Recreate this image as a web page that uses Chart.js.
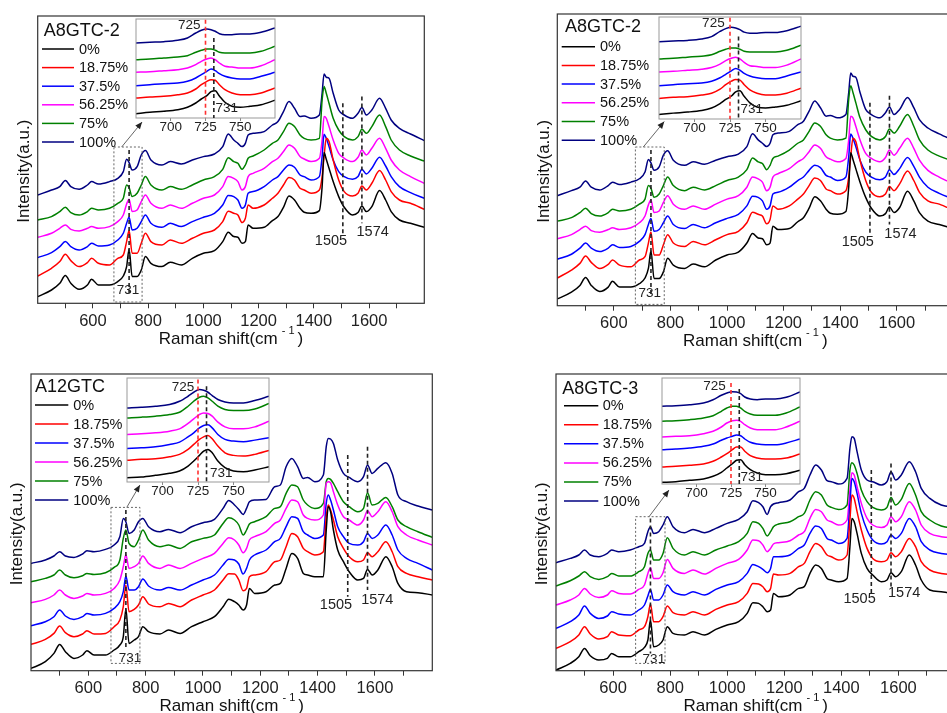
<!DOCTYPE html>
<html><head><meta charset="utf-8">
<script src="https://cdn.jsdelivr.net/npm/chart.js@4.4.1/dist/chart.umd.min.js"></script>
<style>
html,body{margin:0;padding:0;background:#fff;overflow:hidden;width:947px;height:713px;}
canvas{position:absolute;}
</style></head><body>
<canvas id="m1"></canvas><canvas id="m2"></canvas><canvas id="m3"></canvas><canvas id="m4"></canvas>
<canvas id="i1"></canvas><canvas id="i2"></canvas><canvas id="i3"></canvas><canvas id="i4"></canvas>
<script>
// ---------- data ----------
const wavenumbers = [400,450,480,500,520,550,580,595,620,660,690,710,722,731,742,760,775,790,810,850,880,920,960,1000,1040,1070,1090,1110,1125,1140,1152,1162,1180,1220,1250,1270,1290,1310,1330,1350,1365,1390,1420,1430,1437,1445,1455,1470,1490,1510,1540,1560,1574,1590,1610,1638,1660,1680,1710,1750,1800];
const insetWavenumbers = [675,685,695,705,712,718,722,726,729,732,735,739,744,750,757,765,775];
const seriesLabels = ['0%','18.75%','37.5%','56.25%','75%','100%'];
const seriesColors = ['#000000','#ff0000','#0000ff','#ff00ff','#008000','#000080'];
const xTickLabels = [600,800,1000,1200,1400,1600];
const insetTickLabels = [700,725,750];

// A8GTC-2
const A8GTC2_0    = [6.7,13.3,20,27.7,20,14,18.3,24,18.3,18.3,21.7,27.3,36.7,54,26.7,26.7,33.3,46.7,40,36.7,41,38.3,45,50,52.7,61.7,71,66.7,66,60,61.7,78.3,75,76,82.7,86.7,96,107.3,103.3,95,91,90,92.7,116.7,150.7,144,135,121.7,106.7,96,88.3,90.7,97.3,91.7,96.7,112.7,103.3,91.7,83.3,80,76];
const A8GTC2_1875 = [27.3,35,41.7,49,42.7,36.7,40.7,45,40,38.3,45,48.3,61.7,72.7,50,50,60,70,61.7,58.3,63.3,60,65,70,73.3,81.7,92,90,88.3,80.7,85,98.3,95,98.3,105,110,118.3,125.7,123.3,115,113.3,110,113.3,126.7,146.7,165,161.7,143.3,123.3,111.7,107.3,110,117.3,113.3,120,132.7,123.3,111.7,103.3,100,94];
const A8GTC2_375  = [45.7,50.7,56.7,61.7,56.7,53.3,56.7,60,57.3,58.3,63.3,70,80,86,73.3,75,81.7,88.3,80,76,80,76.7,81.7,86,90,98.3,107.8,106.7,103.3,95,98.3,110,111.7,116.7,123.3,126.7,133.3,138.3,136,128.3,126.7,123.3,126.7,146.7,169,165,156.7,143.3,131.7,126.7,124,126.7,134,129.3,135,146,137.3,126.7,116.7,110.7,105];
const A8GTC2_5625 = [66,70,75,78.3,74,72.3,75,76.7,75,76.7,81.7,88.3,99.3,104,91.7,93.3,101.7,108.3,100,95,98.3,95,100,105,108.3,116.7,126.7,125,121.7,113.3,116.7,126.7,130,135,141.7,145,151.7,158.3,155,146.7,144.3,141.7,145,163.3,186.7,185,176.7,163.3,150,145,141.7,146,153.3,148.3,155,165,155,143.3,133.3,126.7,120];
const A8GTC2_75   = [83.3,86.7,91.7,96,90.7,88.3,91.7,95,93.3,95,100,105,118.3,115.7,106.7,110,118.3,126.7,118.3,113.3,116.7,114,118.3,123.3,126.7,134,145.5,141.7,140,134,138.3,145,147.3,153.3,160,163.3,171.7,180,176.7,168.3,165,163.3,165,203.3,216.7,210,200,185,173.3,166.7,163.3,166.7,174,170,176.7,188.3,176.7,163.3,153.3,147.3,142.3];
const A8GTC2_100  = [108.3,113.3,116.7,122.7,116.7,114,118.3,121.7,119.3,121.7,125,131.7,144,140.7,133.3,136.7,148.3,152.7,143.3,138.3,141.7,139.3,143.3,146.7,149.3,156.7,169.3,163.3,160,156.7,160,168.3,170,171.7,178.3,181.7,191.7,201.7,195,186.7,187.3,185,188.3,210,229.3,226,225,210,193.3,188.3,185,190,195.7,188.3,193.3,205,195,183.3,175,169.3,162.7];

// A12GTC
const A12GTC_0    = [2.3,9,17.3,26.3,19,12.3,15.7,20,15.7,15.7,20.7,25.7,34,62,27.3,30.7,34,44,39,36.7,40.7,37.3,44,49,54,64,71.5,69,65.7,60.7,65.7,82.3,77.3,79,85.7,87.3,102.3,117.3,112.3,97.3,95.7,94,94,140.7,164,159,140.7,120.7,109,99,90.7,92.3,101.3,95.7,100.7,114,104,87.3,79,78,75.7];
const A12GTC_1875 = [26.3,31.3,37.3,44.7,38,34,36.7,40,36.7,37.3,44,50.7,64,85.7,59,61.3,65.7,74,66.7,64,67.3,64,70.7,75.7,80.7,90.7,97,96.7,90.7,80,82.3,94,95.7,99,109,110.7,124,137.3,134,122.3,119,115.7,119,154,165.7,160.7,150.7,134,122.3,114,109,110.7,118,114,119,129,119,104,97.3,94,90.7];
const A12GTC_375  = [45,49,54,60.7,54.7,51.3,54,57.3,55.7,57.3,62.3,69,79,94.7,80.7,80.7,84,91.7,84.7,80.7,83.3,80.7,85.7,90.7,95.7,105.7,111.5,110.7,106.7,96.7,102.3,110.7,115.7,120.7,129,132.3,144,154,152.3,139,135.7,132.3,135.7,167.3,175.7,170.7,160.7,144,134,127.3,125.7,129,137.3,132.3,135.7,145.7,135.7,120.7,112.3,107.3,100.7];
const A12GTC_5625 = [68,71.3,75.7,80.7,75.7,72.3,74.7,77.3,75.7,77.3,82.3,90.7,104,116,102.3,104,107.3,114.7,107.3,102.3,105.7,102.3,107.3,112.3,117.3,127.3,133,130.7,125.7,118,122.3,130.7,134,139,147.3,150.7,162.3,170.7,169,155.7,152.3,150.7,155.7,187.3,189,188,179,165.7,154,150.7,145.7,150.7,160,154,159,169,159,144,135.7,130.7,125.7];
const A12GTC_75   = [89,92.3,95.7,100.7,95.7,93,95,97.3,96.3,98,103.3,110.7,132.3,140.7,127.3,124,130.7,140.7,130.7,124,125.7,122.3,129,132.3,135.7,147.3,153,150.7,145.7,135.7,140.7,146.7,149,154,162.3,164,177.3,185.7,184,170.7,165.7,162.3,167.3,189,192.3,191.3,187.3,179,169,164,159,162.3,178,165.7,167.3,173.3,164,150.7,144,139,133.3];
const A12GTC_100  = [107.3,110.7,114.7,119,114.7,113.3,116.7,120,119,121.3,125.7,134,152.3,149,137.3,140.7,149,152.3,144,139,141.3,138,144,148,151.3,162.3,170.3,165.7,161.3,156.3,162.3,169,170.7,171.3,184,185.7,204,212.3,204,192.3,193.3,189,195.7,224,232.3,231.7,227.3,210.7,197.3,193.3,189,194,205.7,197.3,202.3,208,197.3,175.7,169,164.7,160.7];

// A8GTC-3
const A8GTC3_0    = [0.7,7.3,14,22.3,15,10.7,12.3,17.3,14,14,19,23.3,30.7,51,24,25.7,30.7,44,37.3,35.7,39,35.7,41.3,45.7,49,57.3,68,67.3,64,59,60.7,77.3,74,75.7,82.3,84,97.3,105.7,102.3,92.3,90.7,89,92.3,124,152.3,149,137.3,117.3,102.3,95.7,89,90.7,98,94,99,115.7,105.7,90.7,80.7,79,76.7];
const A8GTC3_1875 = [22.3,29,35.7,44,36.7,31.7,34,39,35.7,35,40.7,44,54,66.7,49,49,54,64.7,58,55.7,59,55.7,61.3,65.7,69,77.3,87.3,86.7,84,79,82.3,96.7,95.7,97.3,104,107.3,119,127.3,124,115.7,114,110.7,115.7,150.7,175.7,172.3,159,140.7,122.3,112.3,109,110.7,118,114,119,132.3,124,109,100.7,97.3,95.7];
const A8GTC3_375  = [42.3,49,55.7,64.7,57.3,52.3,54.7,59,56.7,55.7,60.7,65.7,74.7,81.3,70.7,70.7,75.7,85.7,79,75.7,79,75.7,81.3,85.7,89,97.3,106.2,104,101.3,98,102.3,114,114,115.7,122.3,125.7,137.3,144.7,142.3,132.3,130.7,127.3,132.3,167.3,192.3,189,177.3,157.3,140.7,130.7,126.7,129,135.7,132.3,137.3,152.3,144,129,120.7,117.3,115.7];
const A8GTC3_5625 = [65.7,70.7,75.7,82.3,76.7,73.3,75.7,80,77.3,76.7,81.3,85.7,97.3,103,92.3,92.3,98,111.3,102.3,97.3,100.7,96.7,102.3,107.3,111.3,120.7,130.7,130,125.7,119,122.3,126.7,128,130,135.7,139,152.3,161.3,159,150.7,149,145.7,150.7,180.7,198,195.7,184,167.3,152.3,145.7,143.3,145.7,154,149,154,169,160.7,145.7,137.3,134,133];
const A8GTC3_75   = [84.7,90,94.7,99,94,91.3,94,97.3,94.7,94.7,99,104,117.3,120.7,110.7,110.7,117.3,133,122.3,115.7,119,115.7,120.7,124.7,129,137.3,149,147.3,142.3,134.7,139,144,146.7,149,154,157.3,170.7,179,175.7,165.7,163.3,161.3,165.7,200.7,208,205.7,197.3,180.7,169,163.3,160.7,163.3,173.3,165.7,171.3,187.3,175.7,159,150.7,144.7,142.3];
const A8GTC3_100  = [108,112.3,115.7,120.7,115.7,114,117.3,120.7,119,120.7,124,127.3,139,144,137.3,139,145.7,154,144,138,141.3,138,142.3,147.3,151.3,159,170,168,164,156.3,164,166.7,168,170.7,179,182.3,195.7,205.7,200.7,190,189,186.7,192.3,222.3,234,232.3,219,200.7,190.7,189,185.7,189,199,190.7,195.7,209,199,182.3,172.3,165.7,163.3];

// insets (675-775 cm-1)
const A8GTC2_in_0    = [4.3,5.7,6.7,8.3,10.7,15,19,22.3,26.3,27.3,22,15.7,11.7,10.7,11.7,13.3,17.7];
const A8GTC2_in_1875 = [20,21,21.7,23.3,25,29,33.3,36.7,38.3,37.7,33.3,28.3,25,23.3,23.3,25,30];
const A8GTC2_in_375  = [32.3,33.3,34.3,35,36.7,40,43.3,46.7,49,47.3,44.3,41.7,40,39,39,41.7,45.7];
const A8GTC2_in_5625 = [45.7,46.3,47.3,48.3,50,53.3,56.7,59,60,58.3,55,51.7,51,50,50,52.3,58.3];
const A8GTC2_in_75   = [58.3,59,60,61,62.3,65.7,67.7,69,69,67.7,65.7,65,65,65,65,66.7,71.7];
const A8GTC2_in_100  = [75,75.7,76.3,77.7,80,85,87.7,89,88.3,86.7,84.3,83.3,83.3,84,84,85.7,90];

const A12GTC_in_0    = [4.3,5,6.7,8.7,11,16,21,26.7,31,32.7,29.3,21,14.3,11,10.3,12,15.3];
const A12GTC_in_1875 = [21.7,22.7,23.3,25.3,27.7,32.7,37.7,42.7,45.3,46.7,43.3,36,29.3,26.7,26,27.7,31.7];
const A12GTC_in_375  = [33.7,34.3,35.3,37.7,40,45.3,49.3,54.3,56.7,57.3,54.3,47.7,42.7,41,40.3,42,44.3];
const A12GTC_in_5625 = [47.7,48.3,49.3,51,53.3,58.7,63.3,67.7,69.3,68.7,66,60,55.3,53.3,53.3,55.3,61];
const A12GTC_in_75   = [64.3,65,66,67.7,70,76,81,85,86,84.3,81,76,72.7,71.7,71.7,73.3,78.7];
const A12GTC_in_100  = [74.3,75,76,77.7,81,86,90,92.7,92,90,86.7,82.7,80.3,79.3,79.3,81.7,86];

const A8GTC3_in_0    = [1.7,2.3,3.7,5,7.7,11.7,16,20.3,23.7,24.3,19.3,14.3,11,9.3,9.3,10.3,13.7];
const A8GTC3_in_1875 = [17,17.7,18.7,20,22.7,27,30.3,34.3,37,37,32.7,28.3,26,25,25,26,30];
const A8GTC3_in_375  = [34.3,35,36,37.7,40,43.7,46,47.7,49,48.3,45,41.7,40,39.3,39.3,41,45];
const A8GTC3_in_5625 = [47,47.7,48.3,50.3,52.7,57,61,63.3,63.7,62.7,59.3,56,54.3,54.3,54.3,57,62.7];
const A8GTC3_in_75   = [62.7,63.3,64.3,66,68.3,72.7,76,77.7,77.7,76,72.7,70,68.7,68.7,68.7,71,77];
const A8GTC3_in_100  = [77.7,78.3,79.3,81,84.3,88.7,91,92.3,92,90.3,87,85,84.3,85,85,86.7,92];

// ---------- drawing ----------
const FONT = "'Liberation Sans', Arial, Helvetica, sans-serif";

function place(id, box){
  const c = document.getElementById(id);
  c.width = Math.round(box.w); c.height = Math.round(box.h);
  c.style.left = box.x+'px'; c.style.top = box.y+'px';
  c.style.width = Math.round(box.w)+'px'; c.style.height = Math.round(box.h)+'px';
  return c;
}

function decorPlugin(cfg){
  return { id:'decor', afterDraw(chart){
    const ctx = chart.ctx, xs = chart.scales.x, ys = chart.scales.y, ca = chart.chartArea;
    const px = v => xs.getPixelForValue(v), py = v => ys.getPixelForValue(v);
    ctx.save();
    ctx.setLineDash([]);
    ctx.strokeStyle = cfg.frameColor; ctx.lineWidth = cfg.frameWidth;
    ctx.strokeRect(ca.left, ca.top, ca.right-ca.left, ca.bottom-ca.top);
    (cfg.lines||[]).forEach(l=>{
      ctx.strokeStyle = l.color; ctx.lineWidth = l.width||1.6; ctx.setLineDash(l.dash||[4,3]);
      ctx.beginPath(); ctx.moveTo(px(l.x), py(l.y1)); ctx.lineTo(px(l.x), py(l.y2)); ctx.stroke();
    });
    if (cfg.box){
      const b = cfg.box;
      ctx.strokeStyle = '#666'; ctx.lineWidth = 1; ctx.setLineDash([2,2]);
      ctx.strokeRect(px(b.x1), py(b.y1), px(b.x2)-px(b.x1), py(b.y2)-py(b.y1));
    }
    if (cfg.arrow){
      const a = cfg.arrow;
      const x1=px(a.x1), y1=py(a.y1), x2=px(a.x2), y2=py(a.y2);
      ctx.setLineDash([]); ctx.strokeStyle='#555'; ctx.lineWidth=0.9;
      ctx.beginPath(); ctx.moveTo(x1,y1); ctx.lineTo(x2,y2); ctx.stroke();
      const ang = Math.atan2(y2-y1, x2-x1), L=7, W=3;
      ctx.fillStyle='#222'; ctx.beginPath();
      ctx.moveTo(x2,y2);
      ctx.lineTo(x2-L*Math.cos(ang)+W*Math.sin(ang), y2-L*Math.sin(ang)-W*Math.cos(ang));
      ctx.lineTo(x2-L*Math.cos(ang)-W*Math.sin(ang), y2-L*Math.sin(ang)+W*Math.cos(ang));
      ctx.closePath(); ctx.fill();
    }
    ctx.setLineDash([]);
    (cfg.labels||[]).forEach(t=>{
      ctx.fillStyle='#222'; ctx.font = t.size+'px '+FONT; ctx.textAlign='center'; ctx.textBaseline='middle';
      ctx.fillText(t.text, px(t.x), py(t.y));
    });
    if (cfg.title){
      ctx.fillStyle='#111'; ctx.font = '18px '+FONT; ctx.textAlign='left'; ctx.textBaseline='middle';
      ctx.fillText(cfg.title.text, ca.left+cfg.title.dx, ca.top+cfg.title.dy);
    }
    if (cfg.legend){
      const L = cfg.legend;
      chart.data.datasets.forEach((ds,i)=>{
        const y = ca.top + L.y0 + L.dy*i;
        ctx.strokeStyle = ds.borderColor; ctx.lineWidth = 1.5;
        ctx.beginPath(); ctx.moveTo(ca.left+L.x0, y); ctx.lineTo(ca.left+L.x1, y); ctx.stroke();
        ctx.fillStyle='#111'; ctx.font='14.5px '+FONT; ctx.textAlign='left'; ctx.textBaseline='middle';
        ctx.fillText(ds.label, ca.left+L.tx, y+0.5);
      });
    }
    if (cfg.axisTitles){
      ctx.fillStyle='#111';
      const main='Raman shift(cm', sup='- 1', close=')';
      ctx.font='17px '+FONT; const wMain=ctx.measureText(main).width, wClose=ctx.measureText(close).width;
      ctx.font='11px '+FONT; const wSup=ctx.measureText(sup).width;
      const total = wMain+4+wSup+3+wClose;
      let x0 = (ca.left+ca.right)/2 - total/2;
      const base = ca.bottom + 40.5;
      ctx.textAlign='left'; ctx.textBaseline='alphabetic';
      ctx.font='17px '+FONT; ctx.fillText(main, x0, base);
      ctx.font='11px '+FONT; ctx.fillText(sup, x0+wMain+4, base-10);
      ctx.font='17px '+FONT; ctx.fillText(close, x0+wMain+4+wSup+3, base);
      ctx.save();
      ctx.translate(ca.left-13.3, (ca.top+ca.bottom)/2+11.5);
      ctx.rotate(-Math.PI/2);
      ctx.font='17px '+FONT; ctx.textAlign='center'; ctx.textBaseline='middle';
      ctx.fillText('Intensity(a.u.)', 0, 0);
      ctx.restore();
    }
    ctx.restore();
  }};
}

function buildSets(xArr, series){
  return series.map((vals,i)=>({
    label: seriesLabels[i],
    data: xArr.map((x,j)=>({x:x, y:vals[j]})),
    borderColor: seriesColors[i], borderWidth: 1.5, pointRadius: 0,
    cubicInterpolationMode:'monotone', fill:false
  }));
}

function mainChart(id, box, area, yMax, series, cfg){
  const c = place(id, box);
  return new Chart(c, {
    type:'line',
    data:{datasets: buildSets(wavenumbers, series)},
    options:{
      responsive:false, animation:false, devicePixelRatio:1,
      layout:{padding:{left:0, top: area.t-box.y, right: box.x+box.w-area.r, bottom:0}},
      plugins:{legend:{display:false}, tooltip:{enabled:false}},
      scales:{
        x:{type:'linear', min:400, max:1800,
          afterFit(s){ s.height = box.y+box.h-area.b; },
          ticks:{stepSize:100, autoSkip:false, maxRotation:0, minRotation:0, padding:3, color:'#222',
            font:{family:FONT, size:16.5}, callback:v=> xTickLabels.includes(v)? String(v):''},
          grid:{display:true, drawOnChartArea:false, drawTicks:true, tickLength:5, lineWidth:1,
            color: c2 => (c2.tick && (c2.tick.value<=400 || c2.tick.value>=1800)) ? 'rgba(0,0,0,0)' : '#333'},
          border:{display:false}},
        y:{type:'linear', min:0, max:yMax,
          afterFit(s){ s.width = area.l-box.x; },
          ticks:{display:false}, grid:{display:false}, border:{display:false}}
      }
    },
    plugins:[decorPlugin(Object.assign({frameColor:'#333', frameWidth:1.2, axisTitles:true}, cfg))]
  });
}

function insetChart(id, area, yMax, series, cfg){
  const box = {x: area.l-10, y: area.t-5, w: (area.r-area.l)+20, h: (area.b-area.t)+26};
  const c = place(id, box);
  return new Chart(c, {
    type:'line',
    data:{datasets: buildSets(insetWavenumbers, series)},
    options:{
      responsive:false, animation:false, devicePixelRatio:1,
      layout:{padding:{left:0, top: area.t-box.y, right: box.x+box.w-area.r, bottom:0}},
      plugins:{legend:{display:false}, tooltip:{enabled:false}},
      scales:{
        x:{type:'linear', min:675, max:775,
          afterFit(s){ s.height = box.y+box.h-area.b; },
          ticks:{stepSize:25, autoSkip:false, maxRotation:0, minRotation:0, padding:0, color:'#222',
            font:{family:FONT, size:13.5, lineHeight:1}, callback:v=> insetTickLabels.includes(v)? String(v):''},
          grid:{display:true, drawOnChartArea:false, drawTicks:true, tickLength:3, lineWidth:1,
            color: c2 => (c2.tick && (c2.tick.value<=675 || c2.tick.value>=775)) ? 'rgba(0,0,0,0)' : '#888'},
          border:{display:false}},
        y:{type:'linear', min:0, max:yMax,
          afterFit(s){ s.width = area.l-box.x; },
          ticks:{display:false}, grid:{display:false}, border:{display:false}}
      }
    },
    plugins:[decorPlugin(Object.assign({frameColor:'#999', frameWidth:1}, cfg))]
  });
}

const A8GTC2 = [A8GTC2_0,A8GTC2_1875,A8GTC2_375,A8GTC2_5625,A8GTC2_75,A8GTC2_100];
const A12GTC = [A12GTC_0,A12GTC_1875,A12GTC_375,A12GTC_5625,A12GTC_75,A12GTC_100];
const A8GTC3 = [A8GTC3_0,A8GTC3_1875,A8GTC3_375,A8GTC3_5625,A8GTC3_75,A8GTC3_100];
const A8GTC2_in = [A8GTC2_in_0,A8GTC2_in_1875,A8GTC2_in_375,A8GTC2_in_5625,A8GTC2_in_75,A8GTC2_in_100];
const A12GTC_in = [A12GTC_in_0,A12GTC_in_1875,A12GTC_in_375,A12GTC_in_5625,A12GTC_in_75,A12GTC_in_100];
const A8GTC3_in = [A8GTC3_in_0,A8GTC3_in_1875,A8GTC3_in_375,A8GTC3_in_5625,A8GTC3_in_75,A8GTC3_in_100];

function mainAnn(a){
  return {
    lines:[
      {x:731, y1:a.l731[0], y2:a.l731[1], color:'#222'},
      {x:1505, y1:a.l1505[0], y2:a.l1505[1], color:'#222'},
      {x:1574, y1:a.l1574[0], y2:a.l1574[1], color:'#222'}
    ],
    labels:[
      {text:'731', x:a.t731[0], y:a.t731[1], size:13.5},
      {text:'1505', x:a.t1505[0], y:a.t1505[1], size:14.5},
      {text:'1574', x:a.t1574[0], y:a.t1574[1], size:14.5}
    ],
    box:a.box, arrow:a.arrow
  };
}
function insetAnn(a){
  return {
    lines:[
      {x:725, y1:a.red, y2:0, color:'#ff3030'},
      {x:731, y1:a.black, y2:0, color:'#222'}
    ],
    labels:[
      {text:'725', x:a.t725[0], y:a.t725[1], size:13.5},
      {text:'731', x:a.t731[0], y:a.t731[1], size:13.5}
    ]
  };
}

const annTop = {l731:[153.3,10.3], t731:[727,12.6], l1505:[200,70], t1505:[1462,62.6], l1574:[206.7,80], t1574:[1613,71],
  box:{x1:676,x2:778,y1:156.3,y2:1.3}, arrow:{x1:704,y1:156.3,x2:778,y2:181.3}};
const annP3 = {l731:[160.7,20.7], t731:[745,12.3], l1505:[215.7,74], t1505:[1464,65.7], l1574:[224,80.7], t1574:[1608,70.7],
  box:{x1:679,x2:780,y1:163.3,y2:7.3}, arrow:{x1:734,y1:163.3,x2:780,y2:185.7}};
const annP4 = {l731:[152.3,17.3], t731:[743,11.3], l1505:[200.7,77.3], t1505:[1464,71.3], l1574:[207.3,83], t1574:[1620,77.3],
  box:{x1:679,x2:782,y1:154,y2:7.3}, arrow:{x1:726,y1:154,x2:796,y2:180.7}};

mainChart('m1', {x:0,y:0,w:475,h:350}, {l:37.7,t:16,r:424.3,b:303.3}, 287.3, A8GTC2,
  Object.assign(mainAnn(annTop), {title:{text:'A8GTC-2',dx:6,dy:14.7}, legend:{x0:4.3,x1:36.3,tx:41.3,y0:33,dy:18.6}}));
mainChart('m2', {x:480,y:0,w:490,h:350}, {l:557.3,t:14,r:953.4,b:305.7}, 287.3, A8GTC2,
  Object.assign(mainAnn(annTop), {title:{text:'A8GTC-2',dx:7.7,dy:12.7}, legend:{x0:4.4,x1:37.7,tx:42.7,y0:32.7,dy:18.7}}));
mainChart('m3', {x:0,y:355,w:475,h:358}, {l:31,t:374,r:432.3,b:670.7}, 296.7, A12GTC,
  Object.assign(mainAnn(annP3), {title:{text:'A12GTC',dx:4,dy:12.7}, legend:{x0:4,x1:37.3,tx:42.3,y0:31,dy:19}}));
mainChart('m4', {x:480,y:355,w:490,h:358}, {l:556,t:374,r:955.5,b:670.7}, 296.7, A8GTC3,
  Object.assign(mainAnn(annP4), {title:{text:'A8GTC-3',dx:6.3,dy:15.3}, legend:{x0:8,x1:42.3,tx:46.7,y0:31.7,dy:19.06}}));

insetChart('i1', {l:136,t:19.3,r:275.3,b:118.7}, 99, A8GTC2_in, insetAnn({red:98.3, black:80, t725:[713.3,92.7], t731:[740.3,9.7]}));
insetChart('i2', {l:658.7,t:16.7,r:801,b:118.3}, 99, A8GTC2_in, insetAnn({red:98.3, black:80, t725:[713.3,92.7], t731:[740.3,9.7]}));
insetChart('i3', {l:126.7,t:378.3,r:268.3,b:482.7}, 104.3, A12GTC_in, insetAnn({red:102.7, black:96, t725:[714.5,95], t731:[741.4,8.7]}));
insetChart('i4', {l:661.7,t:378.3,r:800,b:484.3}, 106, A8GTC3_in, insetAnn({red:101, black:95, t725:[713,97.7], t731:[740,6.7]}));
</script>
</body></html>
